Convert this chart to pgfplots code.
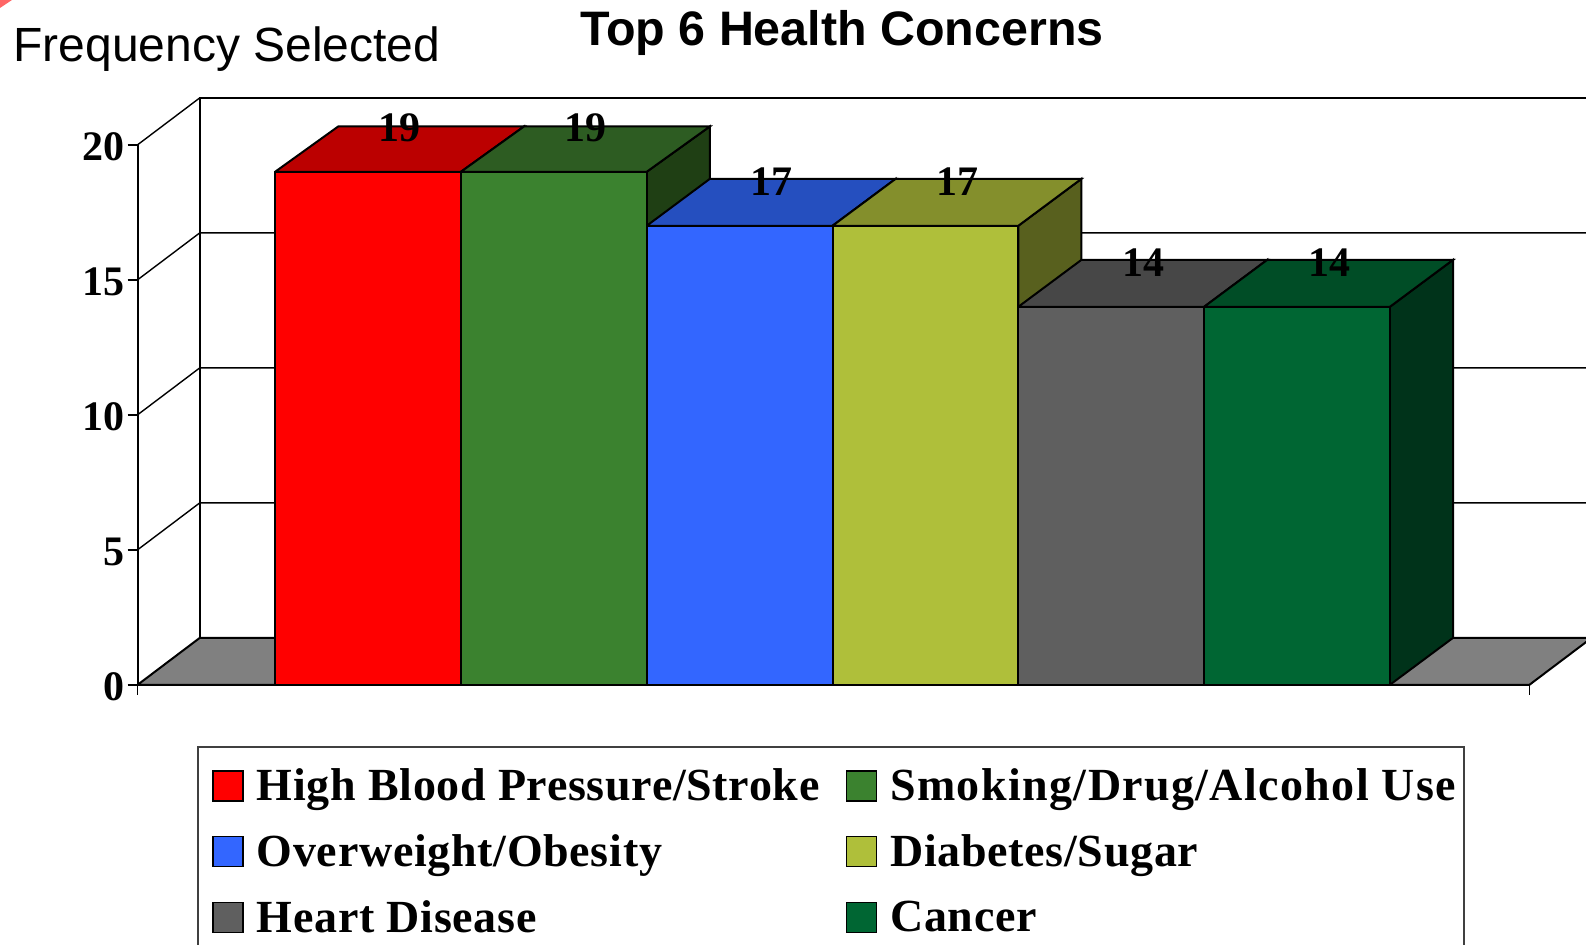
\documentclass[border=0pt]{standalone}
\usepackage{fontspec}
\setmainfont{Liberation Serif}
\newfontfamily\arial{Liberation Sans}
\usepackage{pgfplots}
\pgfplotsset{compat=1.18}
\definecolor{cR}{HTML}{FF0000}\definecolor{cRt}{HTML}{BB0000}
\definecolor{cG}{HTML}{3B822F}\definecolor{cGt}{HTML}{2D5C22}\definecolor{cGs}{HTML}{1F3F14}
\definecolor{cB}{HTML}{3366FF}\definecolor{cBt}{HTML}{254FBF}\definecolor{cBs}{HTML}{1A3680}
\definecolor{cO}{HTML}{AFBF3A}\definecolor{cOt}{HTML}{848F2C}\definecolor{cOs}{HTML}{58601E}
\definecolor{cY}{HTML}{5F5F5F}\definecolor{cYt}{HTML}{474747}\definecolor{cYs}{HTML}{303030}
\definecolor{cD}{HTML}{006633}\definecolor{cDt}{HTML}{004D26}\definecolor{cDs}{HTML}{00331A}
\pgfplotsset{
  front/.style={ybar, bar shift=0pt, bar width=92.9pt, fill=#1, draw=black, line width=1pt,
    nodes near coords, every node near coord/.append style={font=\fontsize{21}{21}\selectfont\bfseries, text=black, anchor=center, xshift=16pt, yshift=22pt},
    legend image code/.code={\path (0pt,0pt); \draw[fill=#1,draw=black,line width=0.8pt] (5pt,-7.5pt) rectangle (20pt,7.5pt);}},
  face/.style={fill=#1, draw=black, line width=1pt, mark=none, forget plot},
  wall/.style={draw=black, mark=none, forget plot},
}
\begin{document}
\begin{tikzpicture}[x=1pt,y=1pt]
\useasboundingbox (0,0) rectangle (793,472);
\clip (0,0) rectangle (793,472);
\fill[red!60!white] (0,472) -- (6,472) -- (0,468) -- cycle;
\node[anchor=base west,inner sep=0pt,font=\arial\fontsize{24}{24}\selectfont] at (6.5,441) {Frequency Selected};
\begin{axis}[
  at={(68.8pt,129.6pt)}, anchor=south west,
  x=92.9pt, y=13.5pt,
  xmin=-0.24, xmax=7.251, ymin=0, ymax=20,
  clip=false,
  axis x line=bottom, axis y line=left,
  axis line style={-, line width=1pt},
  tick align=outside, major tick length=5pt,
  tick style={black, line width=0.8pt},
  xtick={-0.24,7.251}, xticklabels={},
  ytick={0,5,10,15,20},
  /pgf/number format/assume math mode=true,
  yticklabel style={font=\fontsize{21}{21}\selectfont\bfseries, inner sep=1.5pt, yshift=-1pt},
  title={\arial\bfseries\fontsize{24.2}{24.2}\selectfont Top 6 Health Concerns},
  title style={at={(0.506,1.0)}, anchor=center, yshift=50pt},
  legend columns=2,
  legend cell align=left,
  legend style={at={(0.0428,-0.1142)}, anchor=north west, draw=black!75, line width=0.8pt,
    font=\fontsize{23}{23}\selectfont\bfseries\addfontfeatures{LetterSpace=1.5}, inner xsep=2pt, inner ysep=8.5pt,
    row sep=11.5pt,
    /tikz/every even column/.append style={column sep=6pt},
    /tikz/every odd column/.append style={column sep=4.5pt}},
]
% back wall, floor and grid
\addplot[face=gray!100!black] coordinates {(-0.24,0)(7.251,0)(7.586,1.74)(0.095,1.74)(-0.24,0)};
\addplot[wall, line width=1pt] coordinates {(0.095,1.74)(0.095,21.74)(7.7,21.74)};
\addplot[wall, line width=0.7pt] coordinates {(-0.24,5)(0.095,6.74)(7.7,6.74)};
\addplot[wall, line width=0.7pt] coordinates {(-0.24,10)(0.095,11.74)(7.7,11.74)};
\addplot[wall, line width=0.7pt] coordinates {(-0.24,15)(0.095,16.74)(7.7,16.74)};
\addplot[wall, line width=0.7pt] coordinates {(-0.24,20)(0.095,21.74)};
% bar 1
\addplot[face=cR] coordinates {(1.5,0)(1.84,1.74)(1.84,20.68)(1.5,19)(1.5,0)};
\addplot[face=cRt] coordinates {(0.5,19)(1.5,19)(1.84,20.68)(0.84,20.68)(0.5,19)};
\addplot[front=cR] coordinates {(1,19)};
\addlegendentry{High Blood Pressure/Stroke}
% bar 2
\addplot[face=cGs] coordinates {(2.5,0)(2.84,1.74)(2.84,20.68)(2.5,19)(2.5,0)};
\addplot[face=cGt] coordinates {(1.5,19)(2.5,19)(2.84,20.68)(1.84,20.68)(1.5,19)};
\addplot[front=cG] coordinates {(2,19)};
\addlegendentry{\addfontfeatures{LetterSpace=3}Smoking/Drug/Alcohol Use}
% bar 3
\addplot[face=cBs] coordinates {(3.5,0)(3.84,1.74)(3.84,18.74)(3.5,17)(3.5,0)};
\addplot[face=cBt] coordinates {(2.5,17)(3.5,17)(3.84,18.74)(2.84,18.74)(2.5,17)};
\addplot[front=cB] coordinates {(3,17)};
\addlegendentry{Overweight/Obesity}
% bar 4
\addplot[face=cOs] coordinates {(4.5,0)(4.84,1.74)(4.84,18.74)(4.5,17)(4.5,0)};
\addplot[face=cOt] coordinates {(3.5,17)(4.5,17)(4.84,18.74)(3.84,18.74)(3.5,17)};
\addplot[front=cO] coordinates {(4,17)};
\addlegendentry{Diabetes/Sugar}
% bar 5
\addplot[face=cYs] coordinates {(5.5,0)(5.84,1.74)(5.84,15.74)(5.5,14)(5.5,0)};
\addplot[face=cYt] coordinates {(4.5,14)(5.5,14)(5.84,15.74)(4.84,15.74)(4.5,14)};
\addplot[front=cY] coordinates {(5,14)};
\addlegendentry{Heart Disease}
% bar 6
\addplot[face=cDs] coordinates {(6.5,0)(6.84,1.74)(6.84,15.74)(6.5,14)(6.5,0)};
\addplot[face=cDt] coordinates {(5.5,14)(6.5,14)(6.84,15.74)(5.84,15.74)(5.5,14)};
\addplot[front=cD] coordinates {(6,14)};
\addlegendentry{Cancer}
\end{axis}
\end{tikzpicture}
\end{document}
